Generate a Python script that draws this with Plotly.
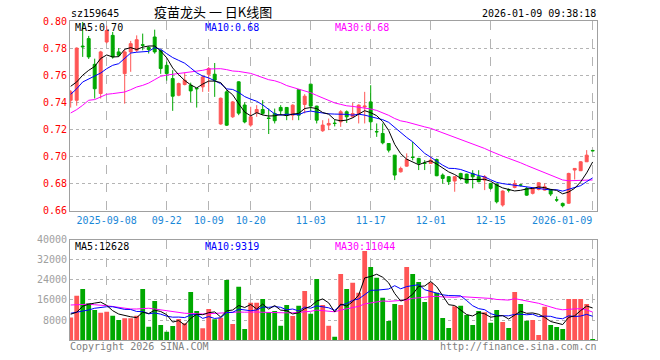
import plotly.graph_objects as go
import pandas as pd

# ---------------- data ----------------
opens = [0.7415, 0.7415, 0.7815, 0.787, 0.768, 0.7465, 0.7845, 0.7894, 0.7772, 0.7612,
         0.7772, 0.7784, 0.7825, 0.7805, 0.7882, 0.7784, 0.7673, 0.7575, 0.7452, 0.7531,
         0.7526, 0.7503, 0.7514, 0.7607, 0.7607, 0.724, 0.7477, 0.7293, 0.7551, 0.738,
         0.7232, 0.7322, 0.7347, 0.7284, 0.7318, 0.7362, 0.7362, 0.7305, 0.7494, 0.7384,
         0.7534, 0.7372, 0.719, 0.7232, 0.7246, 0.7256, 0.733, 0.7293, 0.7317, 0.7365,
         0.7403, 0.7184, 0.717, 0.7096, 0.701, 0.6887, 0.6929, 0.6996, 0.6986, 0.6951,
         0.6949, 0.6978, 0.6863, 0.6851, 0.6819, 0.6875, 0.687, 0.6875, 0.6851, 0.6826,
         0.6801, 0.6797, 0.6642, 0.6754, 0.6772, 0.679, 0.6765, 0.6728, 0.6757, 0.6752,
         0.6757, 0.668, 0.6654, 0.6655, 0.690, 0.6895, 0.6961, 0.7045]
highs = [0.749, 0.7805, 0.7993, 0.789, 0.7722, 0.778, 0.7965, 0.7919, 0.780, 0.7785,
         0.7853, 0.7894, 0.7907, 0.7815, 0.7936, 0.7786, 0.770, 0.7637, 0.7545, 0.7617,
         0.7545, 0.7505, 0.760, 0.7661, 0.769, 0.7435, 0.749, 0.741, 0.7555, 0.740,
         0.7367, 0.7379, 0.7416, 0.7354, 0.7354, 0.7379, 0.7365, 0.7385, 0.7494, 0.746,
         0.7534, 0.7375, 0.7268, 0.728, 0.727, 0.7342, 0.734, 0.7396, 0.7385, 0.7477,
         0.7526, 0.7244, 0.7244, 0.7096, 0.701, 0.6925, 0.7023, 0.7108, 0.699, 0.6973,
         0.700, 0.6985, 0.6875, 0.6855, 0.6855, 0.688, 0.6873, 0.6899, 0.6899, 0.6863,
         0.6806, 0.6797, 0.675, 0.6765, 0.6826, 0.6796, 0.6775, 0.677, 0.681, 0.6801,
         0.676, 0.6705, 0.666, 0.688, 0.6915, 0.6965, 0.7047, 0.7047]
lows = [0.7361, 0.7375, 0.7735, 0.772, 0.7428, 0.7428, 0.7835, 0.7722, 0.7735, 0.739,
        0.7625, 0.777, 0.7784, 0.776, 0.7759, 0.761, 0.756, 0.7337, 0.7445, 0.7525,
        0.740, 0.7361, 0.7477, 0.7477, 0.744, 0.7235, 0.7225, 0.7285, 0.7305, 0.7245,
        0.722, 0.7293, 0.7305, 0.7166, 0.7244, 0.7305, 0.7268, 0.7268, 0.7268, 0.7318,
        0.7335, 0.7244, 0.7182, 0.7195, 0.7222, 0.7219, 0.7248, 0.7285, 0.7244, 0.7244,
        0.7195, 0.7145, 0.709, 0.703, 0.6826, 0.6882, 0.6925, 0.6972, 0.690, 0.690,
        0.6945, 0.6855, 0.680, 0.679, 0.674, 0.6825, 0.680, 0.6765, 0.681, 0.6752,
        0.6755, 0.6654, 0.663, 0.6735, 0.6765, 0.678, 0.671, 0.672, 0.675, 0.6748,
        0.6708, 0.6665, 0.6625, 0.665, 0.683, 0.6893, 0.696, 0.704]
closes = [0.7477, 0.780, 0.781, 0.7735, 0.750, 0.7772, 0.793, 0.7735, 0.7747, 0.7772,
          0.7833, 0.7862, 0.7821, 0.779, 0.7772, 0.7649, 0.7612, 0.7445, 0.7538, 0.7563,
          0.7484, 0.750, 0.7587, 0.7649, 0.7563, 0.743, 0.7231, 0.7403, 0.732, 0.7255,
          0.7293, 0.7347, 0.7318, 0.7281, 0.7264, 0.7337, 0.7305, 0.7379, 0.7305, 0.7445,
          0.7372, 0.7268, 0.7232, 0.7244, 0.7244, 0.733, 0.7293, 0.7317, 0.7379, 0.7372,
          0.7256, 0.7182, 0.7101, 0.7047, 0.6863, 0.6912, 0.6978, 0.6993, 0.695, 0.6949,
          0.6973, 0.6858, 0.6838, 0.6814, 0.6851, 0.6838, 0.6806, 0.685, 0.6814, 0.6851,
          0.6765, 0.6666, 0.6745, 0.6752, 0.6801, 0.6789, 0.6715, 0.6765, 0.6806, 0.6777,
          0.6723, 0.6679, 0.6637, 0.6875, 0.6912, 0.6961, 0.701, 0.7042]
volumes = [9000, 17700, 20400, 14700, 12000, 10900, 11300, 9700, 8000, 8700,
           8700, 9700, 20400, 5300, 15600, 6000, 3300, 5600, 8400, 6700,
           19200, 11600, 4700, 12400, 8300, 8900, 24000, 6400, 21300, 4400,
           14900, 14900, 16400, 11100, 11600, 5700, 14000, 9600, 13700, 19600,
           10500, 24400, 14000, 5700, 1300, 26400, 20400, 22900, 18900, 35600,
           29200, 24900, 16900, 7600, 14400, 14000, 29200, 26400, 23200, 15200,
           22900, 18900, 8800, 4800, 13500, 13700, 10000, 6000, 11600, 11100,
           6900, 12000, 7200, 4800, 19200, 14400, 7700, 8000, 2000, 13300,
           6000, 5200, 4400, 16400, 16400, 16400, 14400, 400]

# moving-average values at the left edge (they depend on days before the window)
ma5_head = [0.7518, 0.755, 0.760, 0.7636]
ma10_head = [0.7459, 0.750, 0.755, 0.7574, 0.7592, 0.7616, 0.7648, 0.7673, 0.7685]
ma30_head = [0.7321, 0.7346, 0.7378, 0.7415, 0.742, 0.7439, 0.7459, 0.7464, 0.7469, 0.7476,
             0.7493, 0.7513, 0.7525, 0.7542, 0.7567, 0.7592, 0.7601, 0.7606, 0.7611, 0.7619,
             0.7626, 0.7631, 0.7636, 0.7646, 0.7648, 0.7648, 0.7641, 0.7631, 0.7628]
vma5_head = [10300, 11100, 13500, 14300]
vma10_head = [10700, 11100, 11600, 12000, 12700, 13100, 13300, 13300, 12800]
vma30_head = [14000, 14200, 14400, 14300, 14100, 14000, 13700, 13400, 13000, 12700,
              12400, 12400, 12500, 12700, 12400, 12000, 11600, 11200, 10900, 10700,
              10600, 10400, 10400, 10500, 10700, 10800, 11000, 11100, 11200]

tick_index = [6, 16, 23, 30, 40, 50, 60, 70, 87]
tick_labels = ["2025-09-08", "09-22", "10-09", "10-20", "11-03", "11-17", "12-01", "12-15", "2026-01-09"]
price_ticks = [0.66, 0.68, 0.70, 0.72, 0.74, 0.76, 0.78, 0.80]
vol_ticks = [8000, 16000, 24000, 32000, 40000]

code = "sz159645"
title = "疫苗龙头 一 日K线图"
stamp = "2026-01-09 09:38:18"
vol_ma_labels = ["MA5:12628", "MA10:9319", "MA30:11044"]

# ---------------- helpers ----------------
def moving_average(values, window, head):
    s = pd.Series(values, dtype=float).rolling(window).mean().tolist()
    return list(head) + s[len(head):]

RED = "#ff5555"
GREEN = "#00a800"
MONO = "DejaVu Sans Mono, Liberation Mono, monospace"

xs = list(range(len(closes)))
ma5 = moving_average(closes, 5, ma5_head)
ma10 = moving_average(closes, 10, ma10_head)
ma30 = moving_average(closes, 30, ma30_head)
vma5 = moving_average(volumes, 5, vma5_head)
vma10 = moving_average(volumes, 10, vma10_head)
vma30 = moving_average(volumes, 30, vma30_head)
vol_colors = [RED if c >= o else GREEN for o, c in zip(opens, closes)]

fig = go.Figure()
fig.add_trace(go.Candlestick(
    x=xs, open=opens, high=highs, low=lows, close=closes,
    increasing=dict(line=dict(color=RED, width=1), fillcolor=RED),
    decreasing=dict(line=dict(color=GREEN, width=1), fillcolor=GREEN),
    whiskerwidth=0, xaxis="x", yaxis="y", showlegend=False, hoverinfo="skip"))
for series, color in [(ma30, "#ff00ff"), (ma10, "#0000ff"), (ma5, "#000000")]:
    fig.add_trace(go.Scatter(x=xs, y=series, mode="lines", line=dict(color=color, width=1),
                             xaxis="x", yaxis="y", showlegend=False, hoverinfo="skip"))

fig.add_trace(go.Bar(x=xs, y=volumes, marker=dict(color=vol_colors, line=dict(width=0)),
                     width=0.8, xaxis="x2", yaxis="y2", showlegend=False, hoverinfo="skip"))
for series, color in [(vma30, "#ff00ff"), (vma10, "#0000ff"), (vma5, "#000000")]:
    fig.add_trace(go.Scatter(x=xs, y=series, mode="lines", line=dict(color=color, width=1),
                             xaxis="x2", yaxis="y2", showlegend=False, hoverinfo="skip"))

x_range = [-0.117, 87.72]
GRID = "#b4b4b4"
AXLINE = "#a0a0a0"
main_ticktext = tick_labels[:-1] + [""]

fig.update_layout(
    width=660, height=360,
    margin=dict(l=70, r=63, t=21, b=20, autoexpand=False),
    paper_bgcolor="white", plot_bgcolor="white",
    showlegend=False, hovermode=False,
    xaxis=dict(domain=[0, 1], range=x_range, anchor="y", tickmode="array",
               tickvals=tick_index, ticktext=main_ticktext, ticks="",
               tickfont=dict(family=MONO, size=10, color="#1a88d8"),
               showgrid=True, gridcolor=GRID, griddash="dash", gridwidth=1,
               showline=True, mirror=True, linecolor=AXLINE, linewidth=1,
               zeroline=False, rangeslider=dict(visible=False), fixedrange=True),
    yaxis=dict(domain=[0.4053, 1], range=[0.66, 0.80], tickmode="array",
               tickvals=price_ticks, ticktext=[f"{v:.2f}" for v in price_ticks], ticks="",
               tickfont=dict(family=MONO, size=10, color="#ff0000"),
               showgrid=True, gridcolor=GRID, griddash="dot", gridwidth=1,
               showline=True, mirror=True, linecolor=AXLINE, linewidth=1, zeroline=False,
               fixedrange=True),
    xaxis2=dict(domain=[0, 1], range=x_range, anchor="y2", matches="x", tickmode="array",
                tickvals=tick_index, showticklabels=False, ticks="",
                showgrid=True, gridcolor=GRID, griddash="dash", gridwidth=1,
                showline=True, mirror=True, linecolor=AXLINE, linewidth=1, zeroline=False),
    yaxis2=dict(domain=[0, 0.3135], range=[0, 40000], tickmode="array",
                tickvals=vol_ticks, ticktext=[str(v) for v in vol_ticks], ticks="",
                tickfont=dict(family=MONO, size=10, color="#a0a0a0"),
                showgrid=True, gridcolor=GRID, griddash="dot", gridwidth=1,
                showline=True, mirror=True, linecolor=AXLINE, linewidth=1, zeroline=False,
                fixedrange=True),
)

# positions below are given in window pixels (plot area spans x 70..597, y 21..340)
def px_x(p):
    return (p - 70) / 527.0

def px_y(p):
    return (340 - p) / 319.0

def note(text, x, y, color, anchor="left", size=10, family=MONO):
    fig.add_annotation(text=text, x=px_x(x), y=px_y(y), xref="paper", yref="paper",
                       xanchor=anchor, yanchor="middle", showarrow=False, borderpad=0,
                       font=dict(family=family, size=size, color=color))

note(code, 70, 13, "#000000")
note(title, 213, 12, "#000000", anchor="center", size=13, family="Noto Sans CJK SC")
note(stamp, 597, 13, "#000000", anchor="right")
note(f"MA5:{ma5[-1]:.2f}", 74, 27.5, "#000000")
note(f"MA10:{ma10[-1]:.2f}", 204, 27.5, "#0000ff")
note(f"MA30:{ma30[-1]:.2f}", 334, 27.5, "#ff00ff")
note(vol_ma_labels[0], 74, 246, "#000000")
note(vol_ma_labels[1], 204, 246, "#0000ff")
note(vol_ma_labels[2], 334, 246, "#ff00ff")
note(tick_labels[-1], 593, 221, "#1a88d8", anchor="right")
note("Copyright 2026 SINA.COM", 69, 346, "#808080")
note("http://finance.sina.com.cn", 598, 346, "#808080", anchor="right")

# remove the page's default 8px body margin so the figure sits at the window origin
fig.write_html("out.html",
               config={"displayModeBar": False, "staticPlot": True},
               post_script="document.body.style.margin='0px';document.body.style.padding='0px';")
